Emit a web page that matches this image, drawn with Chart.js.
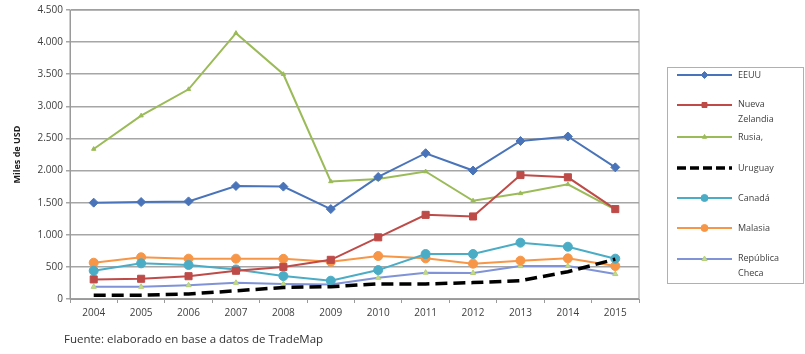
<!DOCTYPE html>
<html>
<head>
<meta charset="utf-8">
<script src="https://cdn.jsdelivr.net/npm/chart.js@4/dist/chart.umd.min.js"></script>
<style>
  html, body { margin: 0; padding: 0; background: #fff; }
  #wrap { width: 805px; height: 354px; position: relative; }
</style>
</head>
<body>
<div id="wrap"><canvas id="chart"></canvas></div>
<script>
// Exportaciones por país, miles de USD
const years = ['2004', '2005', '2006', '2007', '2008', '2009', '2010', '2011', '2012', '2013', '2014', '2015'];
const eeuu = [1500, 1510, 1520, 1760, 1750, 1400, 1900, 2270, 2000, 2460, 2530, 2050];
const nuevaZelandia = [305, 315, 355, 440, 500, 610, 960, 1310, 1285, 1930, 1895, 1400];
const rusia = [2335, 2855, 3265, 4140, 3500, 1830, 1870, 1985, 1530, 1645, 1785, 1390];
const uruguay = [60, 60, 78, 128, 180, 192, 235, 235, 255, 285, 425, 620];
const canada = [440, 555, 530, 460, 358, 285, 450, 700, 700, 877, 814, 628];
const malasia = [565, 650, 628, 628, 625, 580, 670, 633, 550, 597, 633, 514];
const checa = [190, 190, 215, 252, 235, 225, 330, 410, 405, 512, 514, 388];
const yTicks = [0, 500, 1000, 1500, 2000, 2500, 3000, 3500, 4000, 4500];

const fmt = v => v.toString().replace(/\B(?=(\d{3})+(?!\d))/g, '.');

function series(label, data, color, extra) {
  return Object.assign({
    label, data,
    borderColor: color,
    backgroundColor: color,
    pointBorderColor: color,
    borderWidth: 2,
    pointRadius: 4,
    pointBorderWidth: 1,
    tension: 0
  }, extra);
}

const datasets = [
  series('EEUU', eeuu, '#4A74B9', { pointStyle: 'rectRot', pointRadius: 4.5 }),
  series('Nueva Zelandia', nuevaZelandia, '#BE4B48', { pointStyle: 'rect', pointRadius: 5 }),
  series('Rusia,', rusia, '#9BBB59', { pointStyle: 'triangle', pointRadius: 2.5 }),
  series('Uruguay', uruguay, '#000000', { borderWidth: 3.5, borderDash: [12, 6], pointRadius: 0 }),
  series('Canadá', canada, '#4BACC6', { pointStyle: 'circle', pointRadius: 4.5 }),
  series('Malasia', malasia, '#F79646', { pointStyle: 'circle', pointRadius: 4.5 }),
  series('República Checa', checa, '#7F93D6', {
    pointStyle: 'triangle', pointRadius: 3,
    pointBackgroundColor: '#C3DB8A', pointBorderColor: '#B5CF7A'
  })
];

// legend box on the right, line sample with marker in the middle
const sideLegend = {
  id: 'sideLegend',
  afterDraw(chart) {
    const ctx = chart.ctx;
    const box = { x: 667, y: 67, w: 136, h: 216 };
    const rows = [75, 105, 137, 168, 198, 228, 259];
    ctx.save();
    ctx.strokeStyle = '#9DB3D4';
    ctx.lineWidth = 1;
    ctx.strokeRect(box.x + 0.5, box.y + 0.5, box.w, box.h);
    ctx.font = '9px "Open Sans", sans-serif';
    ctx.textBaseline = 'middle';
    chart.data.datasets.forEach((ds, i) => {
      const y = rows[i];
      ctx.save();
      ctx.strokeStyle = ds.borderColor;
      ctx.lineWidth = ds.borderWidth;
      if (ds.borderDash) ctx.setLineDash([9, 4]);
      ctx.beginPath();
      ctx.moveTo(677, y);
      ctx.lineTo(732, y);
      ctx.stroke();
      ctx.restore();
      if (ds.pointRadius > 0) {
        ctx.fillStyle = ds.pointBackgroundColor || ds.backgroundColor;
        ctx.strokeStyle = ds.pointBorderColor;
        ctx.lineWidth = 1;
        Chart.helpers.drawPoint(ctx, {
          pointStyle: ds.pointStyle, radius: Math.min(ds.pointRadius, 3.5), rotation: 0, borderWidth: 1
        }, 704.5, y);
      }
      ctx.fillStyle = '#404040';
      const words = ds.label.split(' ');
      if (words.length > 1 && ctx.measureText(ds.label).width > 56) {
        ctx.fillText(words[0], 738, y - 1);
        ctx.fillText(words.slice(1).join(' '), 738, y + 14);
      } else {
        ctx.fillText(ds.label, 738, y);
      }
    });
    ctx.restore();
  }
};

const footer = {
  id: 'footer',
  afterDraw(chart) {
    const ctx = chart.ctx;
    ctx.save();
    ctx.fillStyle = '#303030';
    ctx.font = '11.5px "Open Sans", sans-serif';
    ctx.textBaseline = 'middle';
    ctx.fillText('Fuente: elaborado en base a datos de TradeMap', 64, 340);
    ctx.restore();
  }
};

const plotFrame = {
  id: 'plotFrame',
  beforeDatasetsDraw(chart) {
    const a = chart.chartArea, ctx = chart.ctx;
    ctx.save();
    ctx.strokeStyle = '#9A9A9A';
    ctx.lineWidth = 1;
    ctx.strokeRect(a.left, a.top, a.right - a.left, a.bottom - a.top);
    ctx.restore();
  }
};

new Chart(document.getElementById('chart'), {
  type: 'line',
  data: { labels: years, datasets },
  plugins: [plotFrame, sideLegend, footer],
  options: {
    responsive: true,
    maintainAspectRatio: false,
    animation: false,
    layout: { padding: { left: 0, top: 10, right: 166, bottom: 25 } },
    plugins: { legend: { display: false }, tooltip: { enabled: false } },
    scales: {
      x: {
        offset: true,
        afterFit: s => { s.height = 30; },
        grid: { offset: true, drawOnChartArea: false, drawTicks: true, tickLength: 4, color: '#9A9A9A' },
        border: { color: '#9A9A9A' },
        ticks: { color: '#404040', font: { size: 10, family: '"Open Sans", sans-serif' }, padding: 4, maxRotation: 0 }
      },
      y: {
        min: 0,
        max: 4500,
        afterFit: s => { s.width = 70; },
        afterBuildTicks: s => { s.ticks = yTicks.map(v => ({ value: v })); },
        grid: { color: '#A6A6A6', lineWidth: 1.5, tickLength: 4 },
        border: { color: '#9A9A9A' },
        ticks: { color: '#404040', font: { size: 10, family: '"Open Sans", sans-serif' }, padding: 3, callback: v => fmt(v) },
        title: { display: true, text: 'Miles de USD', color: '#202020', font: { size: 9, weight: 'bold', family: '"Open Sans", sans-serif' }, padding: { top: 12, bottom: 4 } }
      }
    }
  }
});
</script>
</body>
</html>
